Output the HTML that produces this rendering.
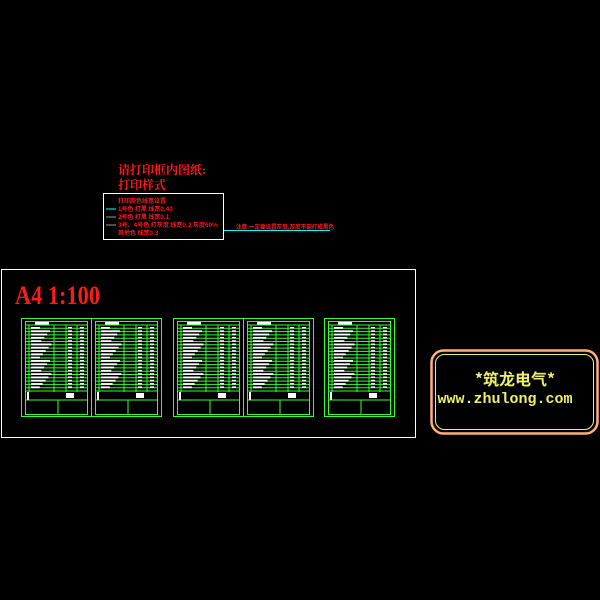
<!DOCTYPE html>
<html><head><meta charset="utf-8"><style>
html,body{margin:0;padding:0;background:#000;width:600px;height:600px;overflow:hidden}
svg{display:block}
</style></head><body>
<svg id="s" width="600" height="600" viewBox="0 0 600 600" xmlns="http://www.w3.org/2000/svg">
<rect width="600" height="600" fill="#000"/>
<text x="118" y="174" fill="#ff1a1a" font-family="Liberation Serif,'Noto Serif CJK SC',serif" font-size="12" font-weight="bold">请打印框内图纸:</text>
<text x="118" y="189" fill="#ff1a1a" font-family="Liberation Serif,'Noto Serif CJK SC',serif" font-size="12" font-weight="bold">打印样式</text>
<rect x="103.5" y="193.5" width="120" height="46" fill="none" stroke="#fff" stroke-width="1"/>
<g fill="#ff1a1a" font-family="'Noto Sans CJK SC',sans-serif" font-size="6" font-weight="bold">
<text x="118" y="203">打印颜色线宽设置</text>
<text x="118" y="211">1号色  打黑  线宽0.40</text>
<text x="118" y="219">2号色  打黑  线宽0.1</text>
<text x="118" y="227" textLength="100" lengthAdjust="spacingAndGlyphs">3号、4号色 打灰度 线宽0.2 灰度60%</text>
<text x="118" y="235">其他色        线宽0.3</text>
<text x="236" y="229" textLength="98" lengthAdjust="spacingAndGlyphs">注意:一定要设置灰度,灰度不能打成黑色</text>
</g>
<line x1="106" y1="209" x2="116" y2="209" stroke="#0ff"/>
<line x1="106" y1="217" x2="116" y2="217" stroke="#999"/>
<line x1="106" y1="225" x2="116" y2="225" stroke="#999"/>
<line x1="224" y1="230.5" x2="330" y2="230.5" stroke="#0ff"/>
<rect x="1.5" y="269.5" width="414" height="168" fill="none" stroke="#fff"/>
<text x="15" y="304" fill="#ff1a1a" font-family="Liberation Serif,serif" font-size="26" font-weight="bold" textLength="85" lengthAdjust="spacingAndGlyphs">A4 1:100</text>
<g id="sheets" stroke="#33ff33" fill="none" stroke-width="1"></g>
<rect x="431.5" y="350.5" width="166" height="83" rx="12" fill="none" stroke="#ffb07a" stroke-width="2.5"/>
<rect x="435.5" y="354.5" width="158" height="75" rx="9" fill="none" stroke="#eef06a" stroke-width="1"/>
<text x="515" y="385" text-anchor="middle" fill="#eef06a" font-family="'Noto Sans CJK SC',sans-serif" font-size="16" font-weight="bold">*筑龙电气*</text>
<text x="505" y="403" text-anchor="middle" fill="#eef06a" font-family="Liberation Mono,monospace" font-size="15" font-weight="bold">www.zhulong.com</text>
</svg>
<script>
var g=document.getElementById('sheets'),ns='http://www.w3.org/2000/svg';
function el(t,a){var e=document.createElementNS(ns,t);for(var k in a)e.setAttribute(k,a[k]);g.appendChild(e);return e;}
function sheet(x){
 el('rect',{x:x+4.5,y:321.5,width:62,height:93});
 for(var y=325;y<=392;y+=3.3){el('line',{x1:x+5,y1:y,x2:x+66,y2:y});}
 [x+8,x+33,x+45,x+56].forEach(function(xx){el('line',{x1:xx,y1:325,x2:xx,y2:392});});
 el('line',{x1:x+5,y1:400,x2:x+66,y2:400});
 el('line',{x1:x+37,y1:400,x2:x+37,y2:414});
 el('rect',{x:x+14,y:322,width:14,height:2.5,fill:'#fff',stroke:'none'});
 for(var y=327;y<388;y+=3.3){var w=8+((y*7)%13);el('rect',{x:x+10,y:y,width:w,height:1.8,fill:'#fff',stroke:'none'});
  el('rect',{x:x+47,y:y,width:4,height:1.5,fill:'#fff',stroke:'none'});el('rect',{x:x+59,y:y,width:4,height:1.5,fill:'#fff',stroke:'none'});}
 el('rect',{x:x+6,y:392,width:2,height:8,fill:'#fff',stroke:'none'});
 el('rect',{x:x+45,y:393,width:8,height:5,fill:'#fff',stroke:'none'});
}
el('rect',{x:21.5,y:318.5,width:140,height:98});el('line',{x1:91.5,y1:318,x2:91.5,y2:417});
el('rect',{x:173.5,y:318.5,width:140,height:98});el('line',{x1:243.5,y1:318,x2:243.5,y2:417});
el('rect',{x:324.5,y:318.5,width:70,height:98});
[22,92,174,244,325].forEach(function(x){sheet(x-1);});
</script>
</body></html>
